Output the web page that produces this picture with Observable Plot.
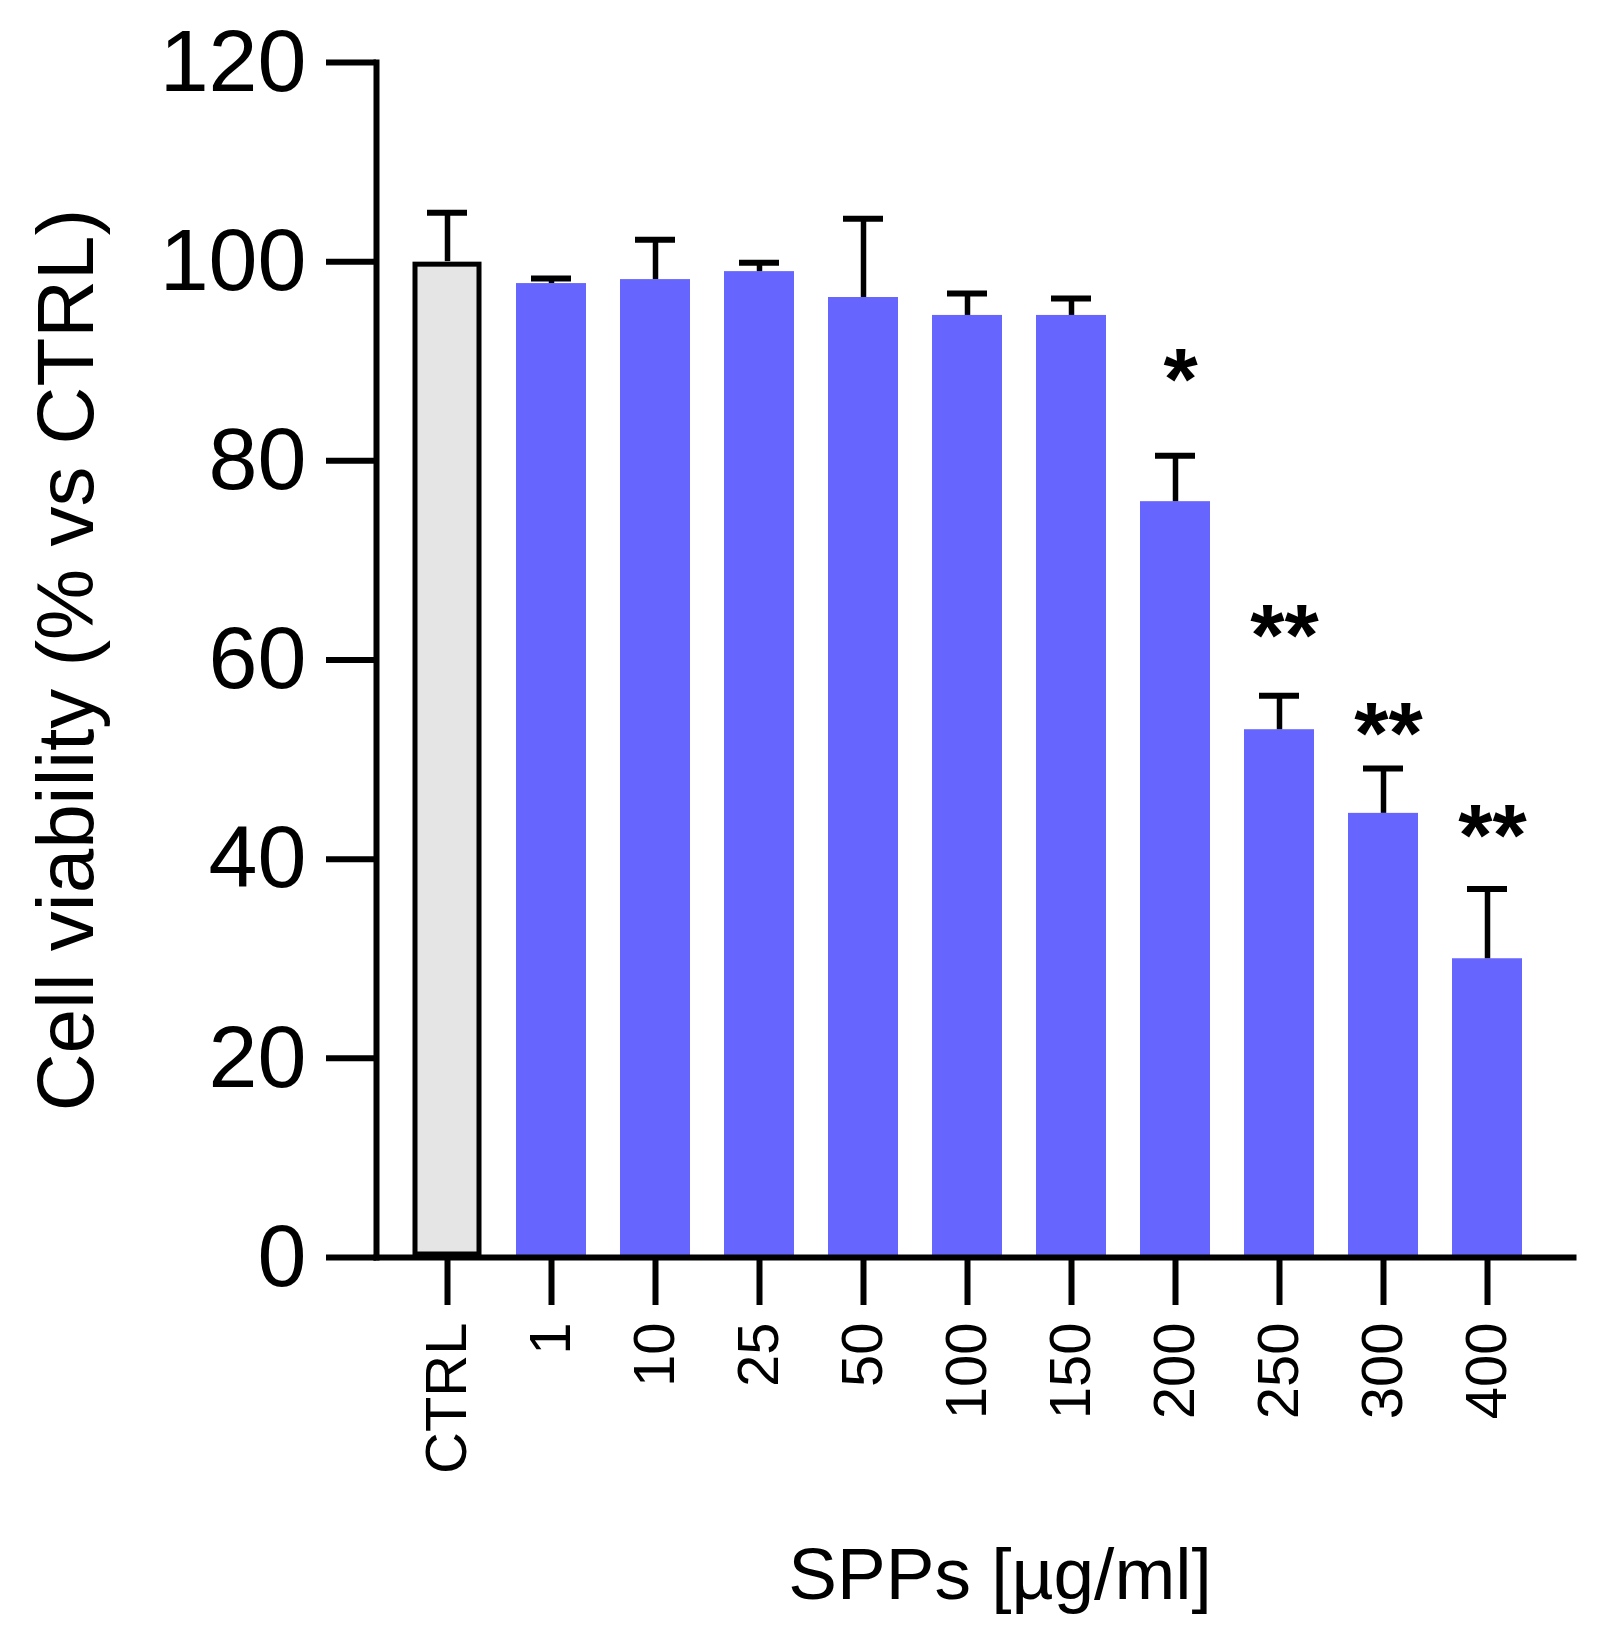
<!DOCTYPE html>
<html>
<head>
<meta charset="utf-8">
<script src="https://cdn.jsdelivr.net/npm/d3@7"></script>
<script src="https://cdn.jsdelivr.net/npm/@observablehq/plot@0.6"></script>
<style>
  html, body { margin: 0; padding: 0; background: #ffffff; }
  #chart svg { display: block; }
</style>
</head>
<body>
<div id="chart"></div>
<script>
// Data
const groups = ["CTRL", "1", "10", "25", "50", "100", "150", "200", "250", "300", "400"];
const means  = [100, 97.8, 98.2, 99.0, 96.4, 94.6, 94.6, 75.9, 53.0, 44.6, 30.0];
const sds    = [4.9, 0.5, 4.0, 0.9, 7.9, 2.2, 1.7, 4.6, 3.4, 4.5, 7.0];
const yTicks = [0, 20, 40, 60, 80, 100, 120];

const starGroups = ["200", "250", "300", "400"];
const starLabels = ["*", "**", "**", "**"];
const starLevels = [90.2, 64.5, 54.7, 44.4];

const yLabel = "Cell viability (% vs CTRL)";
const xLabel = "SPPs [µg/ml]";

const data = groups.map((g, i) => ({group: g, value: means[i], upper: means[i] + sds[i], ctrl: g === "CTRL"}));
const stars = starGroups.map((g, i) => ({group: g, label: starLabels[i], level: starLevels[i]}));

const font = "'Liberation Sans', Arial, Helvetica, sans-serif";

const chart = Plot.plot({
  width: 1598,
  height: 1629,
  marginLeft: 376,
  marginRight: 25,
  marginTop: 62,
  marginBottom: 372,
  style: {fontFamily: font, background: "#ffffff", color: "#000000"},
  x: {domain: groups, paddingInner: 0.327, paddingOuter: 0.3745, align: 0.417},
  y: {domain: [0, 120]},
  marks: [
    Plot.barY(data.filter(d => !d.ctrl), {x: "group", y: "value", fill: "#6666ff"}),
    Plot.barY(data.filter(d => d.ctrl), {x: "group", y: "value", fill: "#e5e5e5", stroke: "#000000", strokeWidth: 5, inset: 3}),
    Plot.ruleX(data, {x: "group", y1: "value", y2: "upper", stroke: "#000000", strokeWidth: 5.5}),
    Plot.tickY(data, {x: "group", y: "upper", stroke: "#000000", strokeWidth: 6, insetLeft: 15, insetRight: 15}),
    Plot.text(stars, {x: "group", y: "level", text: "label", fontSize: 88, fontWeight: "bold", lineAnchor: "bottom", dy: 50, dx: 5, fill: "#000000"}),
    Plot.frame({anchor: "left", stroke: "#000000", strokeWidth: 6}),
    Plot.frame({anchor: "bottom", stroke: "#000000", strokeWidth: 6}),
    Plot.axisY({ticks: yTicks, tickFormat: d => String(d), tickSize: 50, tickPadding: 20, fontSize: 88, strokeWidth: 6, label: null}),
    Plot.axisX({tickRotate: -90, tickSize: 48, tickPadding: 17, fontSize: 58, strokeWidth: 6, label: null}),
    Plot.text([yLabel], {frameAnchor: "left", rotate: -90, textAnchor: "middle", lineAnchor: "bottom", dx: -284, fontSize: 80, fill: "#000000"}),
    Plot.text([xLabel], {frameAnchor: "bottom", textAnchor: "middle", lineAnchor: "bottom", dx: 25, dy: 341, fontSize: 73, fill: "#000000"})
  ]
});

document.getElementById("chart").appendChild(chart);
</script>
</body>
</html>
